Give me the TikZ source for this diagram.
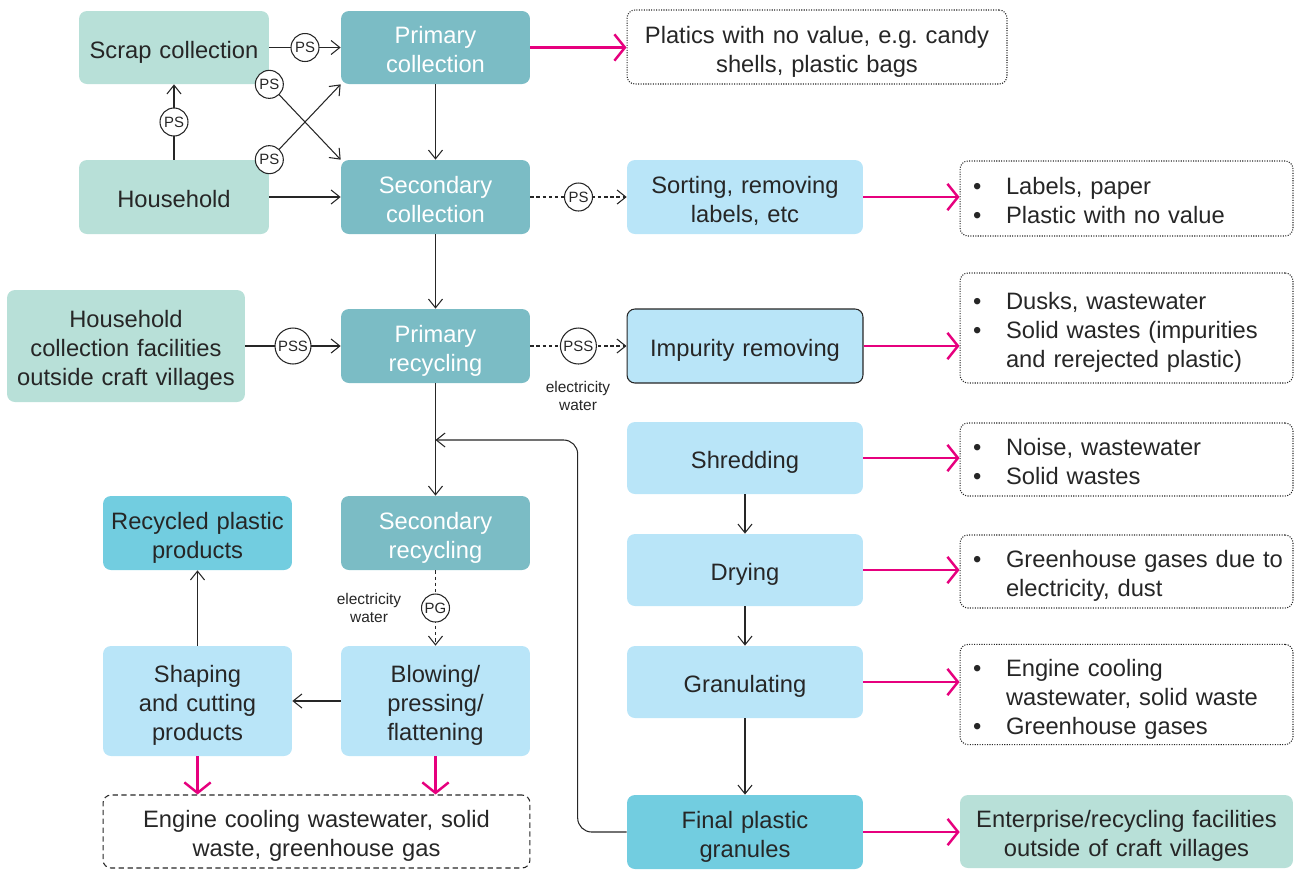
\documentclass[tikz,border=0pt]{standalone}
\usepackage{fontspec}
\setmainfont{Liberation Sans}
\usetikzlibrary{arrows.meta}
\frenchspacing

\definecolor{mint}{HTML}{B8E0D8}
\definecolor{tealbox}{HTML}{7BBCC5}
\definecolor{skyblue}{HTML}{B9E5F8}
\definecolor{cyanbox}{HTML}{72CDE0}
\definecolor{wastepink}{HTML}{E6007E}
\definecolor{ink}{HTML}{262626}

\newcommand{\wasteitem}{\hspace*{0.08cm}\makebox[0.66cm][l]{\textbullet}}
\newcommand{\wastecont}{\hspace*{0.74cm}}
\newcommand{\boxtop}{\rule{0pt}{16.2pt}}
\newcommand{\boxbottom}{\rule[-4pt]{0pt}{4pt}}

\begin{document}
\begin{tikzpicture}[x=0.02cm, y=-0.02cm,
    stage/.style ={rounded corners=4.5pt, align=center, text=ink, inner xsep=0pt, inner ysep=2pt,
                   font=\fontsize{13.5}{16.4}\selectfont,
                   execute at begin node=\boxtop, execute at end node=\boxbottom},
    boxw/.style ={minimum width=#1, text width=#1},
    source/.style ={stage, fill=mint},
    collect/.style ={stage, fill=tealbox, text=white},
    process/.style ={stage, fill=skyblue},
    product/.style ={stage, fill=cyanbox},
    waste/.style ={stage, draw=ink, line width=0.6pt, dash pattern=on 0.6pt off 0.8pt},
    wastelist/.style ={waste, align=left, inner xsep=0.18cm, text width=6.3cm},
    tag/.style ={circle, draw=ink, fill=white, solid, line width=0.6pt, inner sep=0pt,
                 minimum size=0.56cm, font=\fontsize{8.5}{10}\selectfont, text=ink},
    bigtag/.style ={tag, minimum size=0.72cm},
    note/.style ={align=center, text=ink, font=\fontsize{8.8}{10.6}\selectfont},
    flow/.style ={draw=ink, line width=0.6pt, -{Straight Barb[length=5pt, width=8pt]}},
    maybe/.style ={flow, dash pattern=on 2pt off 1.5pt},
    emit/.style ={draw=wastepink, line width=1.4pt, -{Straight Barb[length=6pt, width=15pt]}}]
   \useasboundingbox (0,0) rectangle (1294,870);

   \node[source, boxw=3.8cm, minimum height=1.46cm] (scrap) at (174,47.5) {Scrap collection};
   \node[collect, boxw=3.78cm, minimum height=1.46cm] (pcoll) at (435.5,47.5) {Primary\\collection};
   \node[source, boxw=3.8cm, minimum height=1.48cm] (house) at (174,197) {Household};
   \node[collect, boxw=3.78cm, minimum height=1.48cm] (scoll) at (435.5,197) {Secondary\\collection};
   \node[waste, boxw=7.6cm, minimum height=1.48cm] (novalue) at (817,47) {Platics with no value, e.g. candy\\shells, plastic bags};
   \node[process, boxw=4.72cm, minimum height=1.48cm] (sort) at (745,197) {Sorting, removing\\labels, etc};
   \node[wastelist, minimum height=1.5cm] (labels) at (1126.5,198.5) {\wasteitem Labels, paper\\\wasteitem Plastic with no value};

   \node[source, boxw=4.76cm, minimum height=2.24cm] (outside) at (126,346) {Household\\collection facilities\\outside craft villages};
   \node[collect, boxw=3.78cm, minimum height=1.48cm] (precy) at (435.5,346) {Primary\\recycling};
   \node[process, draw=ink, line width=0.6pt, boxw=4.72cm, minimum height=1.48cm] (impure) at (745,346) {Impurity removing};
   \node[wastelist, minimum height=2.2cm] (dust) at (1126.5,328) {\wasteitem Dusks, wastewater\\\wasteitem Solid wastes (impurities\\\wastecont and rerejected plastic)};
   \node[note] (inputa) at (578,396) {electricity\\water};

   \node[process, boxw=4.72cm, minimum height=1.44cm] (shred) at (745,458) {Shredding};
   \node[wastelist, minimum height=1.46cm] (noise) at (1126.5,459.5) {\wasteitem Noise, wastewater\\\wasteitem Solid wastes};
   \node[process, boxw=4.72cm, minimum height=1.44cm] (dry) at (745,570) {Drying};
   \node[wastelist, minimum height=1.46cm] (ghg) at (1126.5,571.5) {\wasteitem Greenhouse gases due to\\\wastecont electricity, dust};
   \node[process, boxw=4.72cm, minimum height=1.44cm] (granul) at (745,682) {Granulating};
   \node[wastelist, minimum height=1.9cm] (cool) at (1126.5,694.5) {\wasteitem Engine cooling\\\wastecont wastewater, solid waste\\\wasteitem Greenhouse gases};
   \node[product, boxw=4.72cm, minimum height=1.48cm] (granules) at (745,832) {Final plastic\\granules};
   \node[source, boxw=6.66cm, minimum height=1.46cm] (enterprise) at (1126.5,831.5) {Enterprise/recycling facilities\\outside of craft villages};

   \node[collect, boxw=3.78cm, minimum height=1.48cm] (srecy) at (435.5,533) {Secondary\\recycling};
   \node[product, boxw=3.78cm, minimum height=1.48cm] (recycled) at (197.5,533) {Recycled plastic\\products};
   \node[process, boxw=3.78cm, minimum height=2.2cm] (shape) at (197.5,701) {Shaping\\and cutting\\products};
   \node[process, boxw=3.78cm, minimum height=2.2cm] (blow) at (435.5,701) {Blowing/\\pressing/\\flattening};
   \node[waste, dash pattern=on 3pt off 2pt, boxw=8.54cm, minimum height=1.46cm] (residue) at (316.5,831.5) {Engine cooling wastewater, solid\\waste, greenhouse gas};
   \node[note] (inputb) at (369,608) {electricity\\water};
   \coordinate (merge) at (435.5,440);

   \draw[flow] (scrap) to node[tag] {PS} (pcoll);
   \draw[flow] (house) to node[tag] {PS} (scrap);
   \draw[flow] (scrap.south east) to node[tag, pos=0] {PS} (scoll.north west);
   \draw[flow] (house.north east) to node[tag, pos=0] {PS} (pcoll.south west);
   \draw[flow] (house) to (scoll);
   \draw[flow] (pcoll) to (scoll);
   \draw[flow] (scoll) to (precy);
   \draw[flow] (precy) to (srecy);
   \draw[maybe] (scoll) to node[tag] {PS} (sort);
   \draw[flow] (outside) to node[bigtag] {PSS} (precy);
   \draw[maybe] (precy) to node[bigtag] {PSS} (impure);
   \draw[maybe] (srecy) to node[tag] {PG} (blow);
   \draw[flow] (blow) to (shape);
   \draw[flow] (shape) to (recycled);
   \draw[flow] (shred) to (dry);
   \draw[flow] (dry) to (granul);
   \draw[flow] (granul) to (granules);
   \draw[flow, rounded corners=8pt] (granules.west) -- ++(-49,0) |- (merge);

   \draw[emit] (pcoll) to (pcoll -| novalue.west);
   \draw[emit] (sort) to (sort -| labels.west);
   \draw[emit] (impure) to (impure -| dust.west);
   \draw[emit] (shred) to (shred -| noise.west);
   \draw[emit] (dry) to (dry -| ghg.west);
   \draw[emit] (granul) to (granul -| cool.west);
   \draw[emit] (granules) to (granules -| enterprise.west);
   \draw[emit] (shape) to (shape |- residue.north);
   \draw[emit] (blow) to (blow |- residue.north);
 \end{tikzpicture}
\end{document}
